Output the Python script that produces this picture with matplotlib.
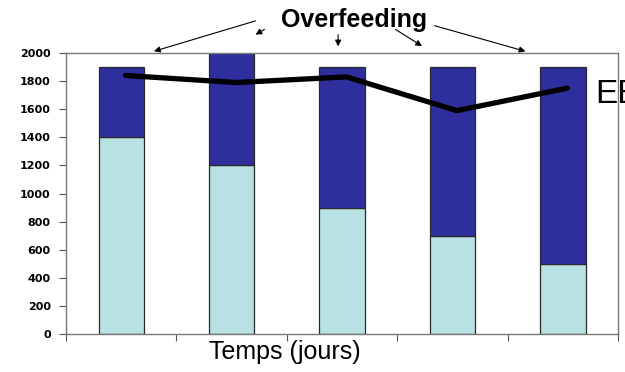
import matplotlib.pyplot as plt
from matplotlib.patches import FancyArrowPatch
import numpy as np

# valeurs lues par jour
jours = ['1', '2', '3', '4', '5']
base = [1400, 1200, 900, 700, 500]
total = [1900, 2000, 1900, 1900, 1900]
ee = [1840, 1790, 1830, 1590, 1750]
yticks = list(range(0, 2001, 200))

haut = np.array(total) - np.array(base)
x = np.arange(len(jours))

plt.rcParams['font.family'] = ['Liberation Sans', 'DejaVu Sans']
fig = plt.figure(figsize=(6.25, 3.72), dpi=100)
ax = fig.add_axes([0.1056, 0.102, 0.8834, 0.7555])

ax.bar(x, base, width=0.41, color='#b9e0e3', edgecolor='#2a2a2a', linewidth=0.9)
ax.bar(x, haut, bottom=base, width=0.41, color='#2e2e9c', edgecolor='#2a2a2a', linewidth=0.9)
ax.plot(x + 0.04, ee, color='black', linewidth=3.8, solid_capstyle='round')

ax.set_xlim(-0.5, len(jours) - 0.5)
ax.set_ylim(0, 2000)
ax.set_yticks(yticks)
ax.set_yticklabels([str(v) for v in yticks], fontsize=8, fontweight='bold',
                   family='DejaVu Sans')
ax.set_xticks(np.arange(-0.5, len(jours), 1.0))
ax.set_xticklabels([])
ax.tick_params(axis='both', direction='out', length=5, width=0.8, color='#555555', pad=6)
for s in ax.spines.values():
    s.set_color('#777777')
    s.set_linewidth(1.0)

ax.set_xlabel('Temps (jours)', fontsize=18)
ax.xaxis.set_label_coords(0.397, -0.02, transform=ax.transAxes)
ax.xaxis.label.set_va('top')

# texte EE coupé au bord droit
fig.text(0.952, 0.745, 'EE', fontsize=24, va='center', ha='left')

# titre et flèches
fig.text(0.567, 0.946, 'Overfeeding', fontsize=18, fontweight='bold', ha='center', va='center')
arr = dict(arrowstyle='-|>', color='black', linewidth=0.8, mutation_scale=9)
fig_pts = [((0.413, 0.946), (0.242, 0.860)),
           ((0.427, 0.925), (0.405, 0.903)),
           ((0.541, 0.914), (0.541, 0.868)),
           ((0.629, 0.925), (0.679, 0.872)),
           ((0.691, 0.933), (0.845, 0.860))]
for (x0, y0), (x1, y1) in fig_pts:
    fig.add_artist(FancyArrowPatch((x0, y0), (x1, y1), transform=fig.transFigure, **arr))

fig.savefig('out.png', dpi=100)
